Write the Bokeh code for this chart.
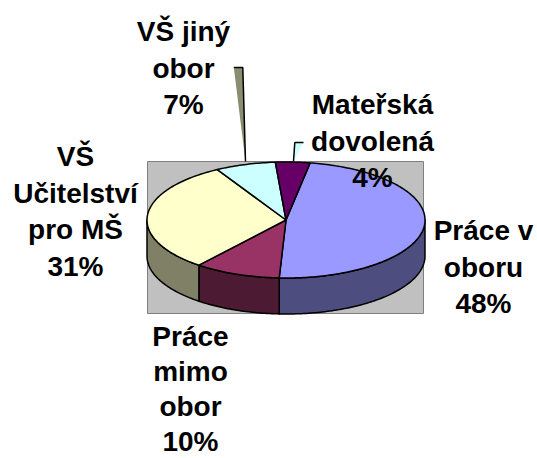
import math
from bokeh.plotting import figure
from bokeh.embed import file_html
from bokeh.resources import INLINE
from bokeh.core.properties import value

categories = ["Práce v oboru", "Práce mimo obor", "VŠ Učitelství pro MŠ", "VŠ jiný obor", "Mateřská dovolená"]
percents = [48, 10, 31, 7, 4]
top_colors = ["#9999FF", "#993366", "#FFFFCC", "#CCFFFF", "#660066"]
side_colors = ["#4D4D80", "#4D1A33", "#808066", "#668080", "#330033"]
label_lines = [
    ["Práce v", "oboru", "48%"],
    ["Práce", "mimo", "obor", "10%"],
    ["VŠ", "Učitelství", "pro MŠ", "31%"],
    ["VŠ jiný", "obor", "7%"],
    ["Mateřská", "dovolená", "4%"],
]
label_anchor = [(483, 230), (190, 335.5), (75, 156), (183, 31), (372, 104)]
label_step = [36.7, 35.3, 36.7, 36.7, 36.7]

CX, CY, RX, RY, DEPTH = 285.5, 219.5, 139, 58, 36
START = 10.0
FONT_PX = 28

p = figure(width=537, height=458, x_range=(0, 537), y_range=(458, 0),
           output_backend="svg", toolbar_location=None, min_border=0,
           outline_line_color=None, background_fill_color="white", border_fill_color="white")
p.axis.visible = False
p.grid.visible = False


def pt(a, dy=0.0):
    r = math.radians(a)
    return CX + RX * math.sin(r), CY - RY * math.cos(r) + dy


def arc(a0, a1, dy=0.0):
    n = max(2, int(abs(a1 - a0)) + 1)
    return [pt(a0 + (a1 - a0) * i / (n - 1), dy) for i in range(n)]


# plot-area backdrop
p.quad(left=[147], right=[423], top=[161], bottom=[313], fill_color="#C0C0C0",
       line_color="#808080", line_width=1)

# leader wedges
p.patch([233.3, 242.3, 245], [67, 67, 161], fill_color="#8C8C70", line_color=None)
p.line([233.3, 242.3, 245], [67, 67, 161], line_color="black", line_width=1.5)
p.patch([294.3, 303, 293], [142, 142, 161], fill_color="#CCFFFF", line_color=None)
p.line([303, 294.3, 293], [142, 142, 161], line_color="black", line_width=1.5)

# slice angles from the values
angles = [START]
for v in percents:
    angles.append(angles[-1] + v * 3.6)

# visible rim (front half only, from right to left)
for i in range(len(percents)):
    a0, a1 = max(angles[i], 90), min(angles[i + 1], 270)
    if a1 <= a0:
        continue
    upper = arc(a0, a1)
    lower = arc(a1, a0, DEPTH)
    pts = upper + lower
    p.patch([q[0] for q in pts], [q[1] for q in pts], fill_color=side_colors[i],
            line_color="black", line_width=1.5, line_join="round")

# top faces
for i in range(len(percents)):
    pts = [(CX, CY)] + arc(angles[i], angles[i + 1])
    p.patch([q[0] for q in pts], [q[1] for q in pts], fill_color=top_colors[i],
            line_color="black", line_width=1.5, line_join="round")

# labels
for lines, (lx, ly), step in zip(label_lines, label_anchor, label_step):
    n = len(lines)
    ys = [ly + k * step for k in range(n)]
    p.text(x=[lx] * n, y=ys, text=lines, text_font=value("Liberation Sans"),
           text_font_style="bold", text_font_size=f"{FONT_PX}px",
           text_align="center", text_baseline="middle", text_color="black")

open("out.html", "w").write(file_html(p, INLINE))
